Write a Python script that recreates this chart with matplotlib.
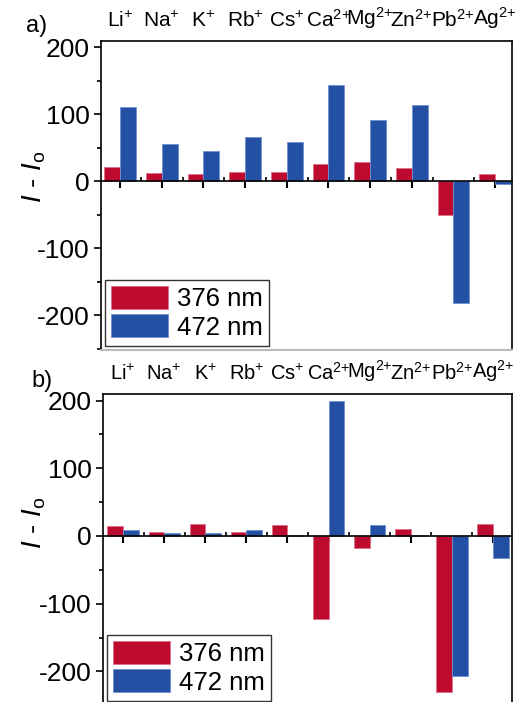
import numpy as np
import matplotlib
matplotlib.use("Agg")
import matplotlib.pyplot as plt
from matplotlib.ticker import MultipleLocator, FixedLocator

plt.rcParams['font.family'] = ['Liberation Sans', 'DejaVu Sans']
plt.rcParams['mathtext.fontset'] = 'custom'
plt.rcParams['mathtext.rm'] = 'Liberation Sans'
plt.rcParams['mathtext.it'] = 'Liberation Sans:italic'
plt.rcParams['mathtext.default'] = 'regular'
plt.rcParams['axes.unicode_minus'] = False

ions = ["Li$^{+}$", "Na$^{+}$", "K$^{+}$", "Rb$^{+}$", "Cs$^{+}$",
        "Ca$^{2{+}}$", "Mg$^{2{+}}$", "Zn$^{2{+}}$", "Pb$^{2{+}}$", "Ag$^{2{+}}$"]
series_names = ["376 nm", "472 nm"]

# panel a
a_376 = [21, 12, 10, 13, 13, 25, 28, 20, -50, 10]
a_472 = [111, 55, 45, 65, 59, 143, 91, 114, -182, -5]
# panel b
b_376 = [15, 6, 18, 6, 16, -122, -18, 11, -230, 18]
b_472 = [9, 4, 5, 9, 1.5, 200, 16, 1.5, -207, -33]

RED = "#BD0A2F"
BLUE = "#2450A4"
W, H = 521, 702

fig = plt.figure(figsize=(W / 100, H / 100), dpi=100)


def panel(rect, v376, v472, ylim, xlim, tag, tagxy, grey_bottom, ion_size):
    ax = fig.add_axes(rect)
    x = np.arange(len(ions))
    bw = 0.38
    ax.bar(x - bw / 2, v376, bw, color=RED, edgecolor="#E0708A", linewidth=0.6,
           label=series_names[0], zorder=2)
    ax.bar(x + bw / 2, v472, bw, color=BLUE, edgecolor="#7090D0", linewidth=0.6,
           label=series_names[1], zorder=2)
    ax.set_xlim(*xlim)
    ax.set_ylim(*ylim)

    # x axis drawn along zero
    ax.spines['bottom'].set_position(('data', 0))
    ax.spines['bottom'].set_linewidth(1.2)
    ax.spines['bottom'].set_zorder(3)
    for s in ['left', 'right', 'top']:
        ax.spines[s].set_linewidth(1.2)
    ax.set_xticks(x)
    ax.set_xticklabels(ions)
    ax.xaxis.set_minor_locator(FixedLocator(x[:-1] + 0.5))
    ax.tick_params(axis='x', which='major', direction='out', length=5, width=1.5,
                   top=False, labeltop=True, labelbottom=False, labelsize=ion_size, pad=2)
    ax.tick_params(axis='x', which='minor', direction='in', length=3, width=1.2, top=False)

    ax.yaxis.set_major_locator(MultipleLocator(100))
    ax.yaxis.set_minor_locator(MultipleLocator(50))
    ax.tick_params(axis='y', which='major', direction='out', length=5, width=1.2,
                   labelsize=19, pad=3)
    ax.tick_params(axis='y', which='minor', direction='out', length=3, width=1.2)

    if grey_bottom:
        ax.plot([0, 1], [0, 0], transform=ax.transAxes, color="#BBBBBB",
                linewidth=1.5, clip_on=False, zorder=4)

    ax.set_ylabel("$\\mathit{I}$ - $\\mathit{I}_{o}$", fontsize=20)
    leg = ax.legend(loc='lower left', fontsize=18.5, frameon=True, fancybox=False,
                    edgecolor='black', handlelength=2.2, handleheight=1.0,
                    handletextpad=0.35, borderpad=0.25, labelspacing=0.12,
                    borderaxespad=0.15)
    leg.get_frame().set_linewidth(1.0)
    fig.text(tagxy[0] / W, 1 - tagxy[1] / H, tag, fontsize=17, va='baseline')
    return ax


ax_a = panel([101 / W, 1 - 350 / H, 411 / W, 309.3 / H], a_376, a_472,
             (-252, 209.4), (-0.456, 9.408), "a)", (26, 32), True, 15)
ax_a.yaxis.set_label_coords(-0.13, 0.56)

ax_b = panel([103 / W, 1 - 705 / H, 408.7 / W, 311 / H], b_376, b_472,
             (-249.6, 209.7), (-0.487, 9.455), "b)", (31, 387), False, 14.5)
ax_b.yaxis.set_label_coords(-0.135, 0.585)

fig.savefig("out.png", dpi=100)
